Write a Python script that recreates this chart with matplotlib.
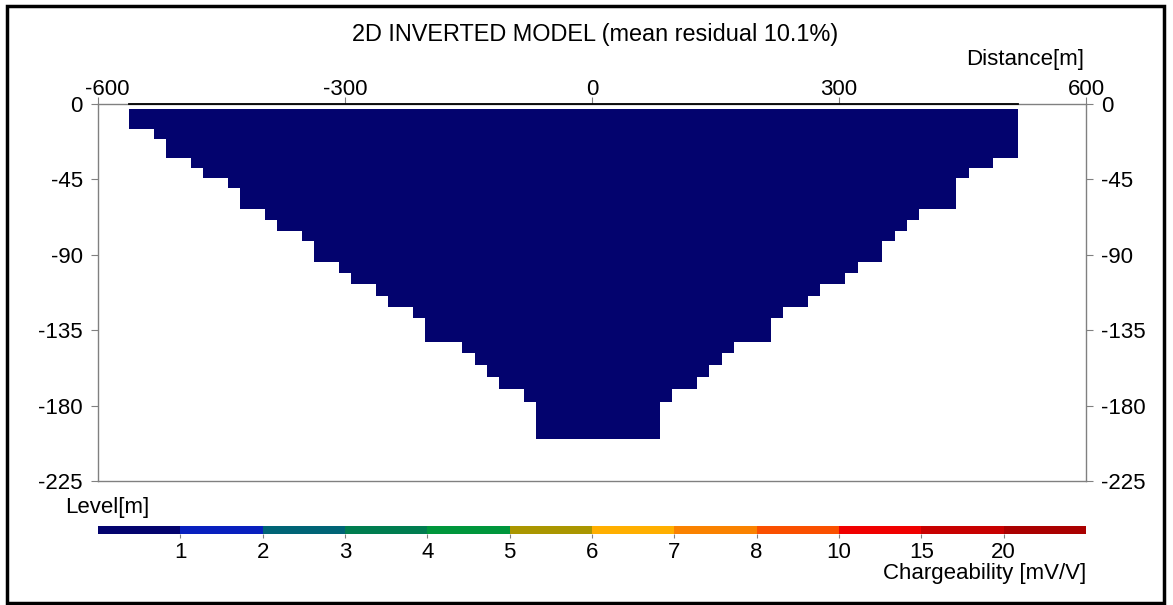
import matplotlib
matplotlib.use("Agg")
import matplotlib.pyplot as plt
import numpy as np
from matplotlib.colors import ListedColormap, BoundaryNorm
from matplotlib.patches import Rectangle
from matplotlib.transforms import ScaledTranslation
import matplotlib as mpl

plt.rcParams['font.family'] = ['Liberation Sans', 'DejaVu Sans']
plt.rcParams['axes.unicode_minus'] = False

# ---- data: model layers (depth in m, horizontal extent in m) ----
layer_top = [3, 15, 21, 32.4, 38.3, 44.3, 50.3, 62.8, 69, 75.6, 81.5, 94.4,
             101, 107.5, 114.3, 120.9, 127.8, 141.7, 148.7, 155.6, 163.0, 170.1, 177.5]
layer_bottom = [15, 21, 32.4, 38.3, 44.3, 50.3, 62.8, 69, 75.6, 81.5, 94.4, 101,
                107.5, 114.3, 120.9, 127.8, 141.7, 148.7, 155.6, 163.0, 170.1, 177.5, 199.8]
layer_left = [-562.5, -532.5, -517.5, -487.5, -472.5, -442.5, -427.5, -397.5, -382.5,
              -352.5, -337.5, -307.5, -292.5, -262.5, -247.5, -217.5, -202.5, -157.5,
              -142.5, -127.5, -112.5, -82.5, -67.5]
layer_right = [517.5, 517.5, 517.5, 487.5, 457.5, 442.5, 442.5, 397.5, 382.5,
               367.5, 352.5, 322.5, 307.5, 277.5, 262.5, 232.5, 217.5, 172.5,
               157.5, 142.5, 127.5, 97.5, 82.5]
layer_value = [0.5] * 23   # chargeability (mV/V), all below 1

surface_x = [-562.5, 517.5]

x_ticks = [-600, -300, 0, 300, 600]
y_ticks = [0, -45, -90, -135, -180, -225]

cb_bounds = [0, 1, 2, 3, 4, 5, 6, 7, 8, 10, 15, 20, 30]
cb_tick_vals = [1, 2, 3, 4, 5, 6, 7, 8, 10, 15, 20]
cb_colors = ['#03036E', '#0820BE', '#006476', '#007D50', '#00963C', '#AA9600',
             '#FFAF00', '#FA8200', '#FA5000', '#F00000', '#C80000', '#AA0000']

cmap = ListedColormap(cb_colors)
norm = BoundaryNorm(cb_bounds, cmap.N)

W, H = 1173, 605
fig = plt.figure(figsize=(W / 100, H / 100), dpi=100)
fs = 16
grey = '#808080'

ax = fig.add_axes([98 / W, 1 - 481.3 / H, (1086 - 98) / W, (481.3 - 104) / H])
tops = np.array(layer_top)
bots = np.array(layer_bottom)
lefts = np.array(layer_left)
rights = np.array(layer_right)
ax.barh(-(tops + bots) / 2, rights - lefts, left=lefts, height=bots - tops,
        color=[cmap(norm(v)) for v in layer_value], edgecolor='none', linewidth=0)
ax.plot(surface_x, [0, 0], color='black', lw=1.3, clip_on=False, zorder=5)

ax.set_xlim(-600, 600)
ax.set_ylim(-225, 0)
ax.set_xticks(x_ticks)
ax.set_xticklabels([str(v) for v in x_ticks])
ax.set_yticks(y_ticks)
ax.set_yticklabels([str(v) for v in y_ticks])
for s in ax.spines.values():
    s.set_color(grey)
    s.set_linewidth(1.0)
ax.tick_params(axis='x', top=True, labeltop=True, bottom=False, labelbottom=False,
               direction='out', length=5, color=grey, labelsize=fs, pad=-2)
ax.tick_params(axis='y', left=True, right=True, labelleft=True, labelright=True,
               direction='out', length=5, color=grey, labelsize=fs, pad=6)

# nudge the first top label right so it clears the "0" on the left axis
first = ax.xaxis.get_major_ticks()[0].label2
first.set_transform(first.get_transform() + ScaledTranslation(9 / 100, 0, fig.dpi_scale_trans))

fig.text(595 / W, 1 - 35 / H, '2D INVERTED MODEL (mean residual 10.1%)',
         ha='center', va='center', fontsize=16.9)
fig.text(1084 / W, 1 - 60 / H, 'Distance[m]', ha='right', va='center', fontsize=fs)
fig.text(65 / W, 1 - 507 / H, 'Level[m]', ha='left', va='center', fontsize=fs)

# colorbar
cax = fig.add_axes([98 / W, 1 - 533.5 / H, (1086 - 98) / W, 8 / H])
cb = mpl.colorbar.ColorbarBase(cax, cmap=cmap, norm=norm, boundaries=cb_bounds,
                               spacing='uniform', orientation='horizontal',
                               ticks=cb_tick_vals)
cb.set_ticklabels([str(v) for v in cb_tick_vals])
cb.outline.set_visible(False)
cax.minorticks_off()
cax.tick_params(axis='x', direction='out', length=3, color=grey, labelsize=fs, pad=3)
fig.text(1086 / W, 1 - 574 / H, 'Chargeability [mV/V]', ha='right', va='center', fontsize=fs)

# outer frame
fig.patches.append(Rectangle((7 / W, 2 / H), (1164 - 7) / W, (599 - 2) / H,
                             transform=fig.transFigure, fill=False, edgecolor='black',
                             linewidth=2.5))

fig.savefig('out.png', dpi=100)
